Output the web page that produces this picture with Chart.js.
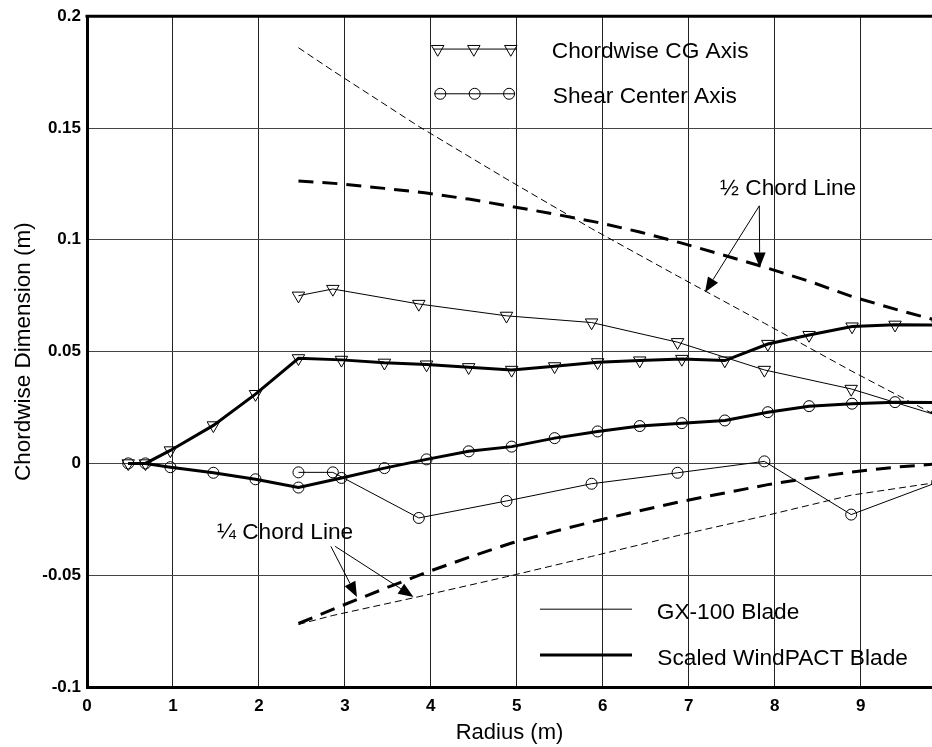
<!DOCTYPE html>
<html><head><meta charset="utf-8">
<script src="https://cdn.jsdelivr.net/npm/chart.js@4.4.0/dist/chart.umd.min.js"></script>
<style>html,body{margin:0;padding:0;background:#fff}canvas{display:block}</style>
</head><body>
<canvas id="c" width="932" height="747"></canvas>
<script>
// ---- data ----
const xTickValues = [0, 1, 2, 3, 4, 5, 6, 7, 8, 9];
const yTickValues = [-0.1, -0.05, 0, 0.05, 0.1, 0.15, 0.2];

const windRadius = [0.48, 0.68, 0.97, 1.47, 1.96, 2.46, 2.96, 3.46, 3.95, 4.44, 4.94, 5.44, 5.94, 6.43, 6.92, 7.42, 7.92, 8.40, 8.90, 9.40, 9.90];
const windCG = [0, 0, 0.0058, 0.017, 0.031, 0.047, 0.0463, 0.045, 0.0442, 0.043, 0.0418, 0.0434, 0.0452, 0.046, 0.0467, 0.046, 0.0534, 0.0574, 0.0612, 0.062, 0.0619];
const windSC = [0, 0, -0.0017, -0.0042, -0.0071, -0.0108, -0.0065, -0.0021, 0.0018, 0.0054, 0.0075, 0.0113, 0.0143, 0.0167, 0.018, 0.0192, 0.0229, 0.0256, 0.0267, 0.0274, 0.0272];

const windChordRadius = [2.46, 2.96, 3.46, 3.95, 4.44, 4.94, 5.44, 5.94, 6.43, 6.92, 7.42, 7.92, 8.40, 8.90, 9.40, 9.90];
const windHalfChord = [0.1263, 0.1250, 0.1230, 0.1209, 0.1182, 0.1149, 0.1115, 0.1078, 0.1035, 0.0985, 0.0930, 0.0873, 0.0815, 0.0746, 0.0690, 0.0638];
const windQuarterChord = [-0.0716, -0.0637, -0.0560, -0.0487, -0.0420, -0.0356, -0.0304, -0.0255, -0.0212, -0.0170, -0.0132, -0.0095, -0.0066, -0.0038, -0.0017, -0.0002];

const gxRadius = [2.46, 2.86, 3.86, 4.88, 5.87, 6.87, 7.88, 8.89, 9.89];
const gxCG = [0.075, 0.078, 0.0713, 0.066, 0.063, 0.0542, 0.0418, 0.0333, 0.0215];
const gxSC = [-0.004, -0.004, -0.0244, -0.0168, -0.0091, -0.0042, 0.0009, -0.0229, -0.0085];
const gxHalfChord = [0.1859, 0.1756, 0.1507, 0.1272, 0.1050, 0.0838, 0.0627, 0.0414, 0.0212];
const gxQuarterChord = [-0.0720, -0.0680, -0.0596, -0.0507, -0.0416, -0.0323, -0.0235, -0.0142, -0.0085];

const xTitle = 'Radius (m)';
const yTitle = 'Chordwise Dimension (m)';
// ---------------------------------------

const FONT = '"Liberation Sans", Arial, sans-serif';
const pts = (xs, ys) => xs.map((x, i) => ({x: x, y: ys[i]}));

function ds(data, width, opts) {
  return Object.assign({
    data: data, borderColor: '#000', borderWidth: width, tension: 0,
    pointRadius: 0, pointBorderColor: '#000', pointBackgroundColor: 'rgba(0,0,0,0)',
    pointBorderWidth: 1, fill: false
  }, opts || {});
}
const TRI_R = 7.2, CIRC_R = 5.5;
const tri = {pointStyle: 'triangle', pointRotation: 180, pointRadius: TRI_R};
const circ = {pointStyle: 'circle', pointRadius: CIRC_R};

function drawTri(ctx, x, y, r) {
  ctx.beginPath();
  ctx.moveTo(x, y + r);
  ctx.lineTo(x - r * Math.sin(Math.PI / 3), y - r / 2);
  ctx.lineTo(x + r * Math.sin(Math.PI / 3), y - r / 2);
  ctx.closePath();
  ctx.stroke();
}
function drawCirc(ctx, x, y, r) {
  ctx.beginPath(); ctx.arc(x, y, r, 0, Math.PI * 2); ctx.stroke();
}
function arrow(ctx, x0, y0, x1, y1) {
  const a = Math.atan2(y1 - y0, x1 - x0), L = 15, W = 6;
  const bx = x1 - L * Math.cos(a), by = y1 - L * Math.sin(a);
  ctx.beginPath(); ctx.moveTo(x0, y0); ctx.lineTo(bx, by); ctx.lineWidth = 1; ctx.stroke();
  ctx.beginPath();
  ctx.moveTo(x1, y1);
  ctx.lineTo(bx + W * Math.sin(a), by - W * Math.cos(a));
  ctx.lineTo(bx - W * Math.sin(a), by + W * Math.cos(a));
  ctx.closePath(); ctx.fill();
}

const decor = {
  id: 'decor',
  beforeDraw(chart) {
    const c = chart.ctx; c.save(); c.fillStyle = '#fff'; c.fillRect(0, 0, chart.width, chart.height); c.restore();
  },
  afterDraw(chart) {
    const ctx = chart.ctx, X = chart.scales.x, Y = chart.scales.y, a = chart.chartArea;
    const px = v => X.getPixelForValue(v), py = v => Y.getPixelForValue(v);
    ctx.save();
    // top frame line
    ctx.strokeStyle = '#000'; ctx.lineWidth = 3;
    ctx.beginPath(); ctx.moveTo(a.left - 1.5, a.top); ctx.lineTo(a.right, a.top); ctx.stroke();

    // legend samples
    ctx.lineWidth = 1; ctx.strokeStyle = '#000'; ctx.fillStyle = '#000';
    ctx.beginPath(); ctx.moveTo(px(4.03), py(0.1853)); ctx.lineTo(px(5.0), py(0.1853)); ctx.stroke();
    [4.08, 4.50, 4.93].forEach(v => drawTri(ctx, px(v), py(0.1853), TRI_R));
    ctx.beginPath(); ctx.moveTo(px(4.04), py(0.1653)); ctx.lineTo(px(4.98), py(0.1653)); ctx.stroke();
    [4.11, 4.51, 4.91].forEach(v => drawCirc(ctx, px(v), py(0.1653), CIRC_R));
    ctx.beginPath(); ctx.moveTo(px(5.27), py(-0.0652)); ctx.lineTo(px(6.34), py(-0.0652)); ctx.stroke();
    ctx.lineWidth = 3;
    ctx.beginPath(); ctx.moveTo(px(5.27), py(-0.0857)); ctx.lineTo(px(6.34), py(-0.0857)); ctx.stroke();

    // arrows
    arrow(ctx, px(7.821), py(0.1152), px(7.826), py(0.0876));
    arrow(ctx, px(7.821), py(0.1152), px(7.19), py(0.0765));
    arrow(ctx, px(2.837), py(-0.0371), px(3.14), py(-0.0597));
    arrow(ctx, px(2.887), py(-0.0371), px(3.798), py(-0.0597));

    // texts
    ctx.font = '22.7px ' + FONT; ctx.textAlign = 'left'; ctx.textBaseline = 'alphabetic';
    const T = [
      ['Chordwise CG Axis', 5.407, 0.1814],
      ['Shear Center Axis', 5.419, 0.1614],
      ['\u00BD Chord Line', 7.364, 0.1201],
      ['\u00BC Chord Line', 1.512, -0.0336],
      ['GX-100 Blade', 6.628, -0.0698],
      ['Scaled WindPACT Blade', 6.635, -0.0902]
    ];
    T.forEach(t => ctx.fillText(t[0], px(t[1]), py(t[2])));
    ctx.restore();
  }
};

new Chart(document.getElementById('c'), {
  type: 'line',
  data: {
    datasets: [
      ds(pts(gxRadius, gxHalfChord), 1, {borderDash: [7, 4]}),
      ds(pts(gxRadius, gxQuarterChord), 1, {borderDash: [7, 4]}),
      ds(pts(windChordRadius, windHalfChord), 3, {borderDash: [15, 9]}),
      ds(pts(windChordRadius, windQuarterChord), 3, {borderDash: [15, 9]}),
      ds(pts(gxRadius, gxCG), 1, tri),
      ds(pts(gxRadius, gxSC), 1, circ),
      ds(pts(windRadius, windCG), 3, tri),
      ds(pts(windRadius, windSC), 3, circ)
    ]
  },
  options: {
    responsive: false, animation: false, devicePixelRatio: 1,
    layout: {autoPadding: false, padding: {top: 15, left: 0, right: 0, bottom: 0}},
    plugins: {legend: {display: false}, tooltip: {enabled: false}},
    scales: {
      x: {
        type: 'linear', min: 0, max: 9.83,
        afterBuildTicks: s => { s.ticks = xTickValues.map(v => ({value: v})); },
        afterFit: s => { s.height = 60; },
        ticks: {color: '#000', padding: 9, font: {family: FONT, size: 17, weight: 'bold'}, maxRotation: 0},
        grid: {color: '#222', lineWidth: 1, drawTicks: false},
        border: {display: true, color: '#000', width: 3},
        title: {display: true, text: xTitle, color: '#000', font: {family: FONT, size: 22}, padding: {top: 0, bottom: 1}}
      },
      y: {
        type: 'linear', min: -0.1, max: 0.2,
        afterBuildTicks: s => { s.ticks = yTickValues.map(v => ({value: v})); },
        afterFit: s => { s.width = 87; },
        ticks: {color: '#000', padding: 6, font: {family: FONT, size: 17, weight: 'bold'},
          callback: v => String(Number(Number(v).toFixed(2)))},
        grid: {color: '#444', lineWidth: 1, drawTicks: false},
        border: {display: true, color: '#000', width: 3},
        title: {display: true, text: yTitle, color: '#000', font: {family: FONT, size: 22.5}, padding: {top: 10, bottom: 0}}
      }
    }
  },
  plugins: [decor]
});
</script>
</body></html>
